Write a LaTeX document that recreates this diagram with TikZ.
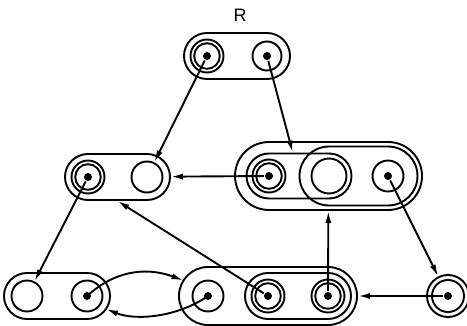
\documentclass[tikz,border=0pt]{standalone}
\usepackage{fontspec}
\setmainfont{Liberation Sans}
\usetikzlibrary{arrows.meta,calc}
\begin{document}
\begin{tikzpicture}[x=1pt,y=-1pt, line width=1.9pt,
  elem/.style={circle, draw, inner sep=0pt, minimum size=31pt},
  ringed/.style={circle, draw, inner sep=0pt, minimum size=33pt,
    path picture={\draw[line width=1.9pt] (path picture bounding box.center) circle (12.8pt);}},
  dotnode/.style={circle, fill, inner sep=0pt, minimum size=8pt},
  pill/.style={draw, rectangle, inner sep=0pt},
  conn/.style={-{Latex[length=12pt,width=6pt]}},
  lbl/.style={font=\fontsize{18}{18}\selectfont, inner sep=0pt}
]
\useasboundingbox (0,0) rectangle (467,326);

% label
\node[lbl] (lblR) at (240,15.5) {R};

% enclosures
\node[pill, minimum width=106pt, minimum height=46pt, rounded corners=23pt] (R) at (237,56) {};
\node[pill, minimum width=105pt, minimum height=46pt, rounded corners=23pt] (ml) at (117.5,177) {};
\node[pill, minimum width=187pt, minimum height=68pt, rounded corners=34pt] (mrO) at (328.5,176) {};
\node[pill, minimum width=105pt, minimum height=45pt, rounded corners=22.5pt] (mrA) at (299,176) {};
\node[pill, minimum width=118pt, minimum height=59pt, rounded corners=29.5pt] (mrB) at (358.5,176) {};
\node[pill, minimum width=106pt, minimum height=46pt, rounded corners=23pt] (bl) at (57,296) {};
\node[pill, minimum width=178pt, minimum height=58pt, rounded corners=29pt] (bmO) at (268,296) {};
\node[pill, minimum width=106pt, minimum height=46pt, rounded corners=23pt] (bmI) at (298,296) {};
\node[circle, draw, inner sep=0pt, minimum size=42pt] (br) at (448,296) {};

% elements
\node[ringed] (r1) at (207,56) {};
\node[elem, minimum size=29pt] (r2) at (267,56) {};
\node[ringed] (ml1) at (88,177) {};
\node[elem] (ml2) at (147,177) {};
\node[ringed] (mr1) at (269,176) {};
\node[elem, minimum size=35pt] (mr2) at (329,176) {};
\node[elem] (mr3) at (388,176) {};
\node[elem] (bl1) at (27,296) {};
\node[elem] (bl2) at (87,296) {};
\node[elem] (bmL) at (208,296) {};
\node[ringed] (bmM) at (268,296) {};
\node[ringed] (bmR) at (328,296) {};
\node[elem, minimum size=32pt] (brc) at (448,296) {};

% dots
\node[dotnode] (r1d) at (r1) {};
\node[dotnode] (r2d) at (r2) {};
\node[dotnode] (ml1d) at (ml1) {};
\node[dotnode] (mr1d) at (mr1) {};
\node[dotnode] (mr3d) at (mr3) {};
\node[dotnode] (bl2d) at (bl2) {};
\node[dotnode] (bmLd) at (bmL) {};
\node[dotnode] (bmMd) at (bmM) {};
\node[dotnode] (bmRd) at (bmR) {};
\node[dotnode] (brd) at (brc) {};

% curve end points on enclosures
\coordinate (t9) at ($(bmL)+(-24.5,-15.5)$);
\coordinate (t10) at ($(bl2)+(19,13)$);

% connectors
\draw[conn] (r1d) -- (ml2);
\draw[conn] (r2d) -- (mrA);
\draw[conn] (mr1d) -- (ml);
\draw[conn] (mr3d) -- (br);
\draw[conn] (brd) -- (bmO);
\draw[conn] (bmRd) -- (mrO);
\draw[conn] (bmMd) -- (ml.south);
\draw[conn] (ml1d) -- (bl1);
\draw[conn] (bl2d.center) .. controls +(32,-29) and +(-32,-12) .. (t9);
\draw[conn] (bmLd.center) .. controls +(-30,21) and +(30,12) .. (t10);
\end{tikzpicture}
\end{document}
